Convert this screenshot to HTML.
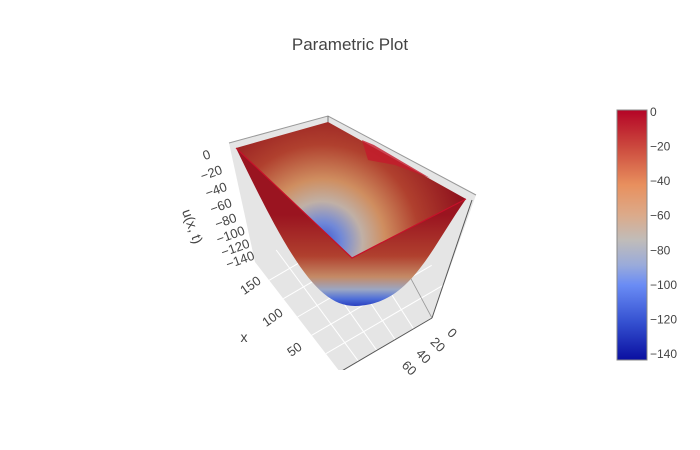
<!DOCTYPE html>
<html><head><meta charset="utf-8"><style>
body{margin:0;background:#fff}
svg{display:block;font-family:"Liberation Sans",sans-serif}
</style></head><body>
<svg width="700" height="450" viewBox="0 0 700 450">
<defs>
<linearGradient id="cb" x1="0" y1="0" x2="0" y2="1">
<stop offset="0" stop-color="#b40426"/><stop offset="0.15" stop-color="#cc4a3e"/>
<stop offset="0.3" stop-color="#e8905e"/><stop offset="0.42" stop-color="#dcaa8a"/>
<stop offset="0.52" stop-color="#c0bcb9"/><stop offset="0.62" stop-color="#9aabda"/>
<stop offset="0.7" stop-color="#6a8cf5"/><stop offset="0.85" stop-color="#3450d0"/>
<stop offset="1" stop-color="#0a0fa0"/></linearGradient>
<radialGradient id="back" cx="322" cy="242" r="150" gradientUnits="userSpaceOnUse">
<stop offset="0" stop-color="#3a55d0"/><stop offset="0.13" stop-color="#7088d8"/>
<stop offset="0.27" stop-color="#c0b0a6"/><stop offset="0.42" stop-color="#cf8e60"/>
<stop offset="0.65" stop-color="#b0402e"/><stop offset="1" stop-color="#8c0e1c"/></radialGradient>
<linearGradient id="front" x1="0" y1="215" x2="0" y2="306" gradientUnits="userSpaceOnUse">
<stop offset="0" stop-color="#9a1420"/><stop offset="0.45" stop-color="#b0402e"/>
<stop offset="0.68" stop-color="#c48a66"/><stop offset="0.82" stop-color="#9aa6c4"/>
<stop offset="0.92" stop-color="#5070d8"/><stop offset="1" stop-color="#2a40c0"/></linearGradient>
<clipPath id="sc"><rect x="0" y="60" width="560" height="310"/></clipPath>
</defs>
<text x="350" y="50" text-anchor="middle" font-size="17" fill="#444">Parametric Plot</text>
<g clip-path="url(#sc)">
<polygon points="229,143 328,116 476,195 432,318 340,372 255,262" fill="#e5e5e5"/>
<g stroke="#fff" stroke-width="1" fill="none" id="grid"></g>
<polyline points="229,143 328,116 476,195" fill="none" stroke="#999" stroke-width="1"/>
<line x1="328" y1="116" x2="328" y2="124" stroke="#777"/>
<line x1="472" y1="200" x2="432" y2="318" stroke="#555" stroke-width="1"/>
<line x1="432" y1="318" x2="340" y2="372" stroke="#555" stroke-width="1"/>
<line x1="328" y1="124" x2="432" y2="318" stroke="#666" stroke-width="0.8" opacity="0.6"/>
<polygon points="236,148 328,122 466,199 352,258" fill="url(#back)"/>
<polygon points="362,140 374,145 430,178 395,165 368,160" fill="#c41a2c" opacity="0.8"/>
<path d="M236,148 L352,258 L466,199 C430,250 410,305 355,306 C318,306 290,260 236,148 Z" fill="url(#front)"/>
<path d="M236,148 L352,258 L466,199" fill="none" stroke="#c8102a" stroke-width="1.2"/>
</g>
<g font-size="13" fill="#444" id="zax"></g>
<text transform="translate(188,228) rotate(70)" text-anchor="middle" font-size="14" fill="#444">u(x, t)</text>
<g font-size="13" fill="#444" id="xax"></g>
<text x="244" y="342" text-anchor="middle" font-size="14" fill="#444">x</text>
<g font-size="13" fill="#444" id="tax"></g>
<rect x="617" y="110" width="30" height="250" fill="url(#cb)" stroke="#888"/>
<g font-size="12" fill="#444" id="cbt"></g>
</svg>
<script>
const cbTicks=[0,-20,-40,-60,-80,-100,-120,-140];
const zTicks=["0","\u221220","\u221240","\u221260","\u221280","\u2212100","\u2212120","\u2212140"];
const xTicks=["150","100","50"];
const tTicks=["0","20","40","60"];
const NS="http://www.w3.org/2000/svg";
function cbY(v){return 112+(v/-140)*242;}
const cbt=document.getElementById('cbt');
cbTicks.forEach(v=>{const t=document.createElementNS(NS,'text');


t.setAttribute('x',650);t.setAttribute('y',cbY(v)+4);
t.textContent=v===0?"0":"\u2212"+(-v);cbt.appendChild(t);});
const zax=document.getElementById('zax');
zTicks.forEach((s,i)=>{const t=document.createElementNS(NS,'text');


const x=208+i*4.8,y=159+i*18.5-i*i*0.5;
t.setAttribute('text-anchor','middle');
t.setAttribute('transform','translate('+x+','+y+') rotate(-20)');
t.textContent=s;zax.appendChild(t);});
const xax=document.getElementById('xax');
xTicks.forEach((s,i)=>{const t=document.createElementNS(NS,'text');


t.setAttribute('text-anchor','middle');
t.setAttribute('transform','translate('+(253+i*22)+','+(289+i*32)+') rotate(-35)');
t.textContent=s;xax.appendChild(t);});
const tax=document.getElementById('tax');
tTicks.forEach((s,i)=>{const t=document.createElementNS(NS,'text');


t.setAttribute('text-anchor','middle');
t.setAttribute('transform','translate('+(449-i*14.3)+','+(336+i*11.7)+') rotate(45)');
t.textContent=s;tax.appendChild(t);});
const g=document.getElementById('grid');
for(let i=1;i<6;i++){const l=document.createElementNS(NS,'line');


const a=i/6;l.setAttribute('x1',255+85*a);l.setAttribute('y1',262+110*a);
l.setAttribute('x2',375+85*a);l.setAttribute('y2',192+110*a);
g.appendChild(l);}
for(let i=1;i<5;i++){const l=document.createElementNS(NS,'line');


const a=i/5;l.setAttribute('x1',255+ (432-340)*a*0 + 177*a*0.6);l.setAttribute('y1',262-60*a);
l.setAttribute('x2',340+92*a);l.setAttribute('y2',372-54*a);
g.appendChild(l);}
</script>
</body></html>
